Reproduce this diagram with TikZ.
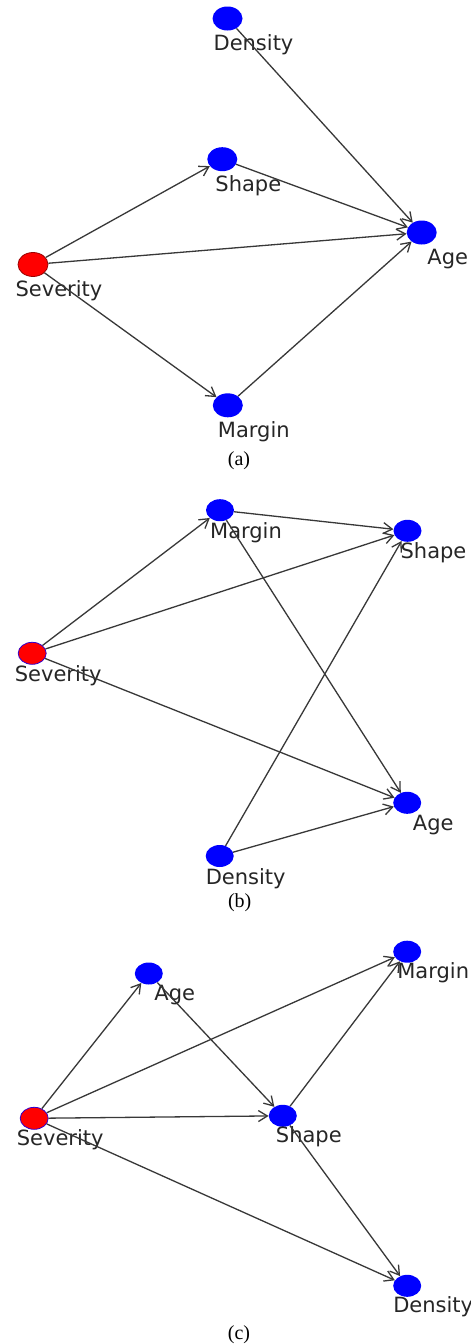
\documentclass[tikz,border=0pt]{standalone}
\usepackage{fontspec}
\setmainfont{Liberation Serif}
\newfontfamily\lblfont{DejaVu Sans}
\usetikzlibrary{shapes.geometric,arrows.meta,calc}
\begin{document}
\begin{tikzpicture}[x=1pt,y=-1pt,
 vbig/.style={ellipse, minimum width=30pt, minimum height=24pt, inner sep=0pt, fill=blue},
 vsmall/.style={ellipse, minimum width=28pt, minimum height=22pt, inner sep=0pt, fill=blue},
 redA/.style={fill=red, draw=red!60!black, line width=0.8pt},
 redB/.style={fill=red, draw=blue!80!red, line width=0.8pt},
 lbl/.style={anchor=base, font=\lblfont\fontsize{21}{24}\selectfont, text=black!85, inner sep=0pt},
 captxt/.style={anchor=base, font=\fontsize{20}{24}\selectfont, inner sep=0pt},
 conn/.style={draw=black!78, line width=1.3pt, -{Straight Barb[length=9pt,width=11pt]}}]
\useasboundingbox (0,0) rectangle (471,1344);
\fill[white] (0,0) rectangle (471,1344);

% ---------- panel (a) ----------
\node[vbig] (aDen) at (227.5,18.5) {};
\node[vbig] (aSha) at (222.3,159.2) {};
\node[vbig] (aAge) at (421.7,232.5) {};
\node[vbig,redA] (aSev) at (33,264.5) {};
\node[vbig] (aMar) at (227.8,405.3) {};
\node[lbl] (aDenL) at ($(aDen)+(26,32)$) {Density};
\node[lbl] (aShaL) at ($(aSha)+(26,32)$) {Shape};
\node[lbl] (aAgeL) at ($(aAge)+(26,32)$) {Age};
\node[lbl] (aSevL) at ($(aSev)+(26,32)$) {Severity};
\node[lbl] (aMarL) at ($(aMar)+(26,32)$) {Margin};
\draw[conn] (aDen) -- (aAge);
\draw[conn] (aSha) -- (aAge);
\draw[conn] (aSev) -- (aSha);
\draw[conn] (aSev) -- (aAge);
\draw[conn] (aSev) -- (aMar);
\draw[conn] (aMar) -- (aAge);
\node[captxt] (capA) at (239,465) {(a)};

% ---------- panel (b) ----------
\node[vsmall] (bMar) at (220,510.2) {};
\node[vsmall] (bSha) at (407.5,530.8) {};
\node[vsmall,redB] (bSev) at (32.2,653.3) {};
\node[vsmall] (bAge) at (407.2,802.8) {};
\node[vsmall] (bDen) at (219.7,856) {};
\node[lbl] (bMarL) at ($(bMar)+(26,28)$) {Margin};
\node[lbl] (bShaL) at ($(bSha)+(26,28)$) {Shape};
\node[lbl] (bSevL) at ($(bSev)+(26,28)$) {Severity};
\node[lbl] (bAgeL) at ($(bAge)+(26,28)$) {Age};
\node[lbl] (bDenL) at ($(bDen)+(26,28)$) {Density};
\draw[conn] (bSev) -- (bMar);
\draw[conn] (bSev) -- (bSha);
\draw[conn] (bSev) -- (bAge);
\draw[conn] (bMar) -- (bSha);
\draw[conn] (bMar) -- (bAge);
\draw[conn] (bDen) -- (bSha);
\draw[conn] (bDen) -- (bAge);
\node[captxt] (capB) at (239.7,907.7) {(b)};

% ---------- panel (c) ----------
\node[vsmall] (cAge) at (148.8,973.5) {};
\node[vsmall] (cMar) at (407.2,951.7) {};
\node[vsmall,redB] (cSev) at (34.2,1118.3) {};
\node[vsmall] (cSha) at (282.8,1115.8) {};
\node[vsmall] (cDen) at (407.2,1285.8) {};
\node[lbl] (cAgeL) at ($(cAge)+(26,27)$) {Age};
\node[lbl] (cMarL) at ($(cMar)+(26,27)$) {Margin};
\node[lbl] (cSevL) at ($(cSev)+(26,27)$) {Severity};
\node[lbl] (cShaL) at ($(cSha)+(26,27)$) {Shape};
\node[lbl] (cDenL) at ($(cDen)+(26,27)$) {Density};
\draw[conn] (cSev) -- (cAge);
\draw[conn] (cSev) -- (cMar);
\draw[conn] (cSev) -- (cSha);
\draw[conn] (cSev) -- (cDen);
\draw[conn] (cAge) -- (cSha);
\draw[conn] (cSha) -- (cMar);
\draw[conn] (cSha) -- (cDen);
\node[captxt] (capC) at (239,1339.5) {(c)};
\end{tikzpicture}
\end{document}
